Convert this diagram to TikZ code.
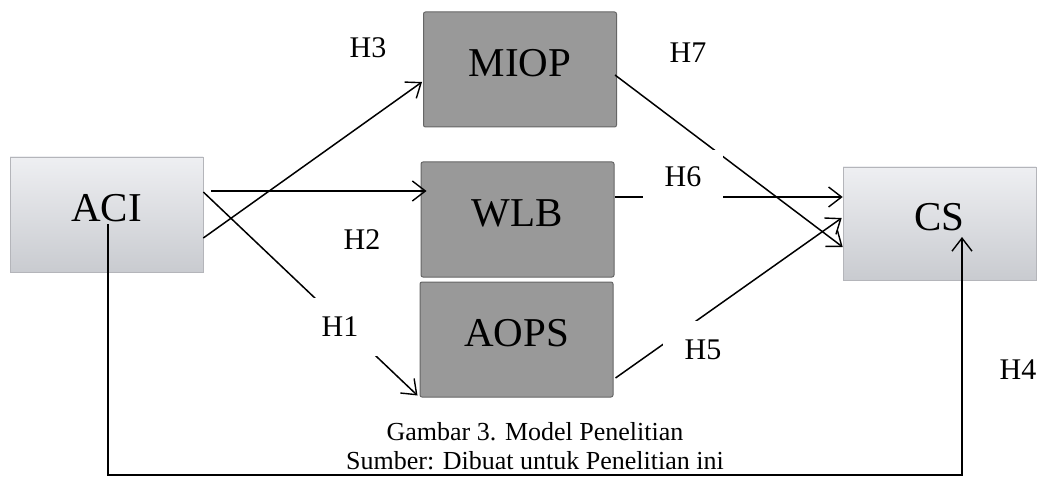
\documentclass[tikz,border=0pt]{standalone}
\usepackage{fontspec}
\setmainfont{Liberation Serif}
\usetikzlibrary{arrows.meta,calc}
\definecolor{lighttop}{HTML}{EEEFF2}
\definecolor{lightbot}{HTML}{C9CBD0}
\definecolor{boxedge}{HTML}{B4B5BA}
\definecolor{darkfill}{HTML}{999999}
\definecolor{darkedge}{HTML}{666666}
\begin{document}
\begin{tikzpicture}[x=1pt,y=-1pt,
  boxfont/.style={font=\fontsize{41}{41}\selectfont, text height=27pt, text depth=13pt},
  lightbox/.style={draw=boxedge, line width=0.6pt, top color=lighttop, bottom color=lightbot,
    minimum width=193pt, minimum height=115pt, inner sep=0pt, boxfont},
  darkbox/.style={draw=darkedge, line width=1pt, rounded corners=2pt, fill=darkfill,
    minimum width=193pt, minimum height=115pt, inner sep=0pt, boxfont},
  hl/.style={font=\fontsize{30}{30}\selectfont, inner sep=0pt},
  hlw/.style={hl, fill=white, minimum width=80pt, minimum height=58pt},
  link/.style={line width=1.5pt, -{Straight Barb[length=13pt,width=20pt,line width=1.4pt]}},
  captxt/.style={font=\fontsize{26}{29}\selectfont, inner sep=0pt},
]
\fill[white] (0,0) rectangle (1042,484);
\useasboundingbox (0,0) rectangle (1042,484);

% boxes
\node[lightbox] (aci) at (106.5,214.5) {ACI};
\node[darkbox] (miop) at (520,69.5) {MIOP};
\node[darkbox] (wlb) at (517.5,219.5) {WLB};
\node[darkbox] (aops) at (516.5,339.5) {AOPS};
\node[lightbox, minimum height=113pt] (cs) at (939.5,223.5) {CS};

% connectors
\draw[link] ($(aci.east)+(8,-23.5)$) -- ($(wlb.west)+(6,-28.5)$);
\draw[link] ($(aci.east)+(0,23.5)$) -- ($(miop.west)+(-1,12.5)$);
\draw[link] ($(aci.east)+(0,-22.5)$) -- ($(aops.south west)+(-2,-2)$);
\draw[link] ($(miop.east)+(-2,5.5)$) -- ($(cs.west)+(0,23.5)$);
\draw[link] ($(wlb.east)+(0,-22.5)$) -- ($(cs.west)+(0,-26.5)$);
\draw[link] ($(aops.east)+(2,38.5)$) -- ($(cs.west)+(-1,-5.5)$);
\draw[link] ($(aci.center)+(1.5,9.5)$) -- ++(0,251) -| ($(cs.center)+(22.5,13.5)$);

% hypothesis labels
\node[hlw] (h1) at (340,327) {H1};
\node[hlw] (h5) at (703,350) {H5};
\node[hlw, minimum height=54pt] (h6) at (683,177) {H6};
\node[hl] (h2) at (362,240) {H2};
\node[hl] (h3) at (368,48) {H3};
\node[hl] (h7) at (688,53) {H7};
\node[hl] (h4) at (1018,370) {H4};

% caption
\node[captxt] (cap1) at (535,432) {Gambar 3. Model Penelitian};
\node[captxt] (cap2) at (535,461) {Sumber: Dibuat untuk Penelitian ini};
\end{tikzpicture}
\end{document}
